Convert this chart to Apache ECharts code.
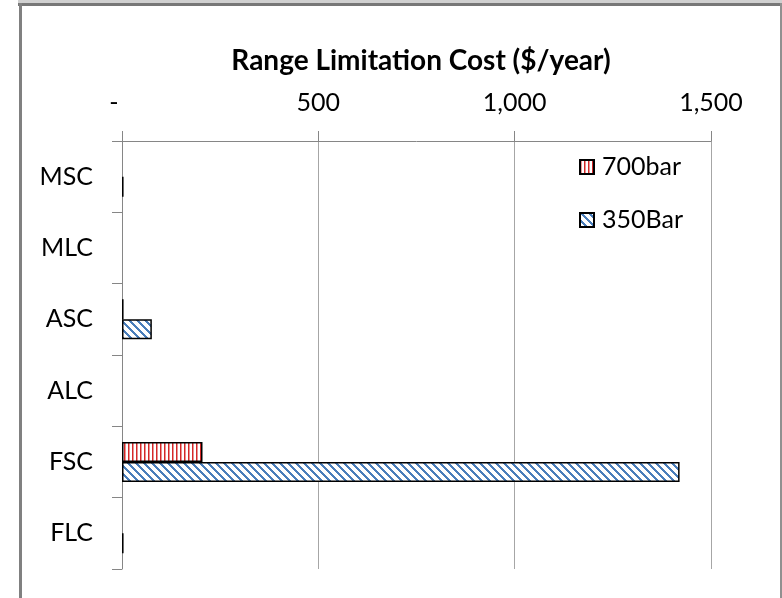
<!DOCTYPE html>
<html>
<head>
<meta charset="utf-8">
<script src="https://cdn.jsdelivr.net/npm/echarts@6/dist/echarts.min.js"></script>
<style>
html,body{margin:0;padding:0;background:#fff;}
#chart{width:782px;height:598px;}
</style>
</head>
<body>
<div id="chart"></div>
<script>
var categories = ['MSC', 'MLC', 'ASC', 'ALC', 'FSC', 'FLC'];
var series700 = [0, 0, 4, 0, 205, 0];
var series350 = [4, 0, 76, 0, 1420, 4];
var seriesNames = ['700bar', '350Bar'];
var xTicks = [0, 500, 1000, 1500];

function makeVertical() {
  var c = document.createElement('canvas');
  c.width = 4; c.height = 4;
  var ctx = c.getContext('2d');
  ctx.fillStyle = '#ffffff'; ctx.fillRect(0, 0, 4, 4);
  ctx.fillStyle = '#D42828'; ctx.fillRect(0, 0, 1.5, 4);
  return c;
}
function makeDiagonal() {
  var n = 8;
  var c = document.createElement('canvas');
  c.width = n; c.height = n;
  var ctx = c.getContext('2d');
  var img = ctx.createImageData(n, n);
  for (var y = 0; y < n; y++) {
    for (var x = 0; x < n; x++) {
      var d = ((x - y) % n + n) % n;
      var i = (y * n + x) * 4;
      var on = d < 3;
      img.data[i] = on ? 0x4A : 255;
      img.data[i + 1] = on ? 0x7E : 255;
      img.data[i + 2] = on ? 0xBB : 255;
      img.data[i + 3] = 255;
    }
  }
  ctx.putImageData(img, 0, 0);
  return c;
}
var pat700 = { image: makeVertical(), repeat: 'repeat' };
var pat350 = { image: makeDiagonal(), repeat: 'repeat' };

function toData(arr) {
  return arr.map(function (v) {
    return v === 0 ? { value: 0, itemStyle: { borderWidth: 0, opacity: 0 } } : v;
  });
}

var font = 'Lato';
var chart = echarts.init(document.getElementById('chart'));
chart.setOption({
  animation: false,
  backgroundColor: '#ffffff',
  graphic: [
    { type: 'rect', z: -10, shape: { x: 18, y: 0, width: 764, height: 3 }, style: { fill: '#D0D0D0' } },
    { type: 'rect', z: -10, shape: { x: 18, y: 3, width: 764, height: 3 }, style: { fill: '#777777' } },
    { type: 'rect', z: -10, shape: { x: 19, y: 3, width: 3, height: 600 }, style: { fill: '#808080' } },
    { type: 'rect', z: -10, shape: { x: 780, y: 3, width: 2, height: 600 }, style: { fill: '#909090' } }
  ],
  title: {
    text: 'Range Limitation Cost ($/year)',
    left: 416, top: 42, textAlign: 'center',
    textStyle: { fontFamily: font, fontWeight: 'bold', fontSize: 28, color: '#000' }
  },
  legend: {
    orient: 'vertical',
    left: 579, top: 154,
    padding: 0,
    itemWidth: 14, itemHeight: 14,
    itemGap: 27,
    icon: 'rect',
    data: seriesNames,
    textStyle: { fontFamily: font, fontSize: 25, color: '#000', lineHeight: 26, padding: [0, 0, 0, 3] }
  },
  grid: { left: 122, right: 71, top: 141, bottom: 29, containLabel: false },
  xAxis: {
    type: 'value',
    position: 'top',
    min: xTicks[0], max: xTicks[xTicks.length - 1], interval: 500,
    axisLine: { show: true, lineStyle: { color: '#868686', width: 1 } },
    axisTick: { show: true, length: 10, lineStyle: { color: '#868686' } },
    splitLine: { show: true, lineStyle: { color: '#A6A6A6', width: 1 } },
    axisLabel: {
      fontFamily: font, fontSize: 25, color: '#000', margin: 26,
      formatter: function (v) {
        if (v === 0) return '{d|-}';
        return v.toLocaleString('en-US');
      },
      rich: { d: { fontFamily: font, fontSize: 25, color: '#000', padding: [0, 16, 0, 0] } }
    }
  },
  yAxis: {
    type: 'category',
    inverse: true,
    data: categories,
    axisLine: { show: true, lineStyle: { color: '#868686', width: 1 } },
    axisTick: { show: true, length: 10, lineStyle: { color: '#868686' } },
    splitLine: { show: false },
    axisLabel: { fontFamily: font, fontSize: 25, color: '#000', margin: 29 }
  },
  series: [
    {
      name: seriesNames[0], type: 'bar',
      data: toData(series700),
      barGap: '0%', barCategoryGap: '44%',
      itemStyle: { color: pat700, borderColor: '#000', borderWidth: 1.5 }
    },
    {
      name: seriesNames[1], type: 'bar',
      data: toData(series350),
      barGap: '0%', barCategoryGap: '44%',
      itemStyle: { color: pat350, borderColor: '#000', borderWidth: 1.5 }
    }
  ]
});
</script>
</body>
</html>
